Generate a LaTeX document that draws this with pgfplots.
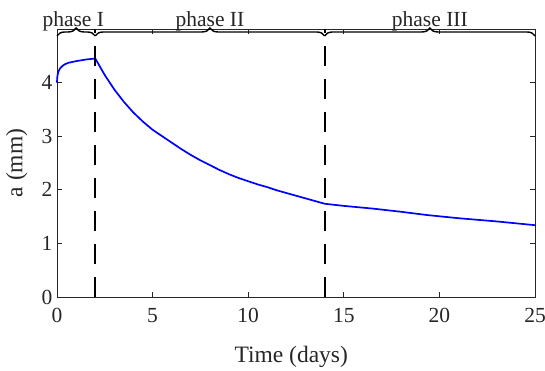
\documentclass[border=0pt]{standalone}
\usepackage{fontspec}
\setmainfont{Liberation Serif}
\usepackage{pgfplots}
\pgfplotsset{compat=1.18}
\usetikzlibrary{decorations.pathreplacing}
\definecolor{axgray}{RGB}{38,38,38}
\begin{document}
\begin{tikzpicture}[x=1pt,y=1pt]
\begin{axis}[scale only axis,
  width=478pt, height=268pt,
  xmin=0, xmax=25, ymin=0, ymax=5,
  xtick={0,5,...,25}, ytick={0,1,2,3,4},
  tick align=inside, major tick length=5pt,
  axis line style={axgray, line width=0.9pt},
  every tick/.style={axgray, line width=0.9pt},
  tick label style={font=\fontsize{21.5}{24}\selectfont, text=axgray},
  xticklabel style={yshift=-8pt},
  yticklabel style={xshift=-1pt},
  /pgf/number format/assume math mode=true,
  xlabel={Time (days)}, ylabel={a (mm)},
  label style={font=\fontsize{23.5}{26}\selectfont, text=axgray},
  xlabel style={at={(axis description cs:0.49,-0.246)}, anchor=base},
  ylabel style={at={(axis description cs:-0.084,0.5)}, anchor=center},
  clip=false]
\addplot[blue, line width=1.7pt] coordinates {
(0,4.00) (0.01,4.08) (0.03,4.14) (0.08,4.21) (0.15,4.26) (0.25,4.30) (0.4,4.34)
(0.6,4.37) (1.0,4.40) (1.5,4.43) (2.0,4.45)
(2.5,4.14) (3.0,3.87) (3.5,3.64) (4.0,3.44) (4.5,3.27) (5.0,3.12) (5.5,3.00)
(6.0,2.88) (6.5,2.76) (7.0,2.65) (7.5,2.55) (8.0,2.46) (8.5,2.37) (9.0,2.29)
(9.5,2.22) (10.0,2.16) (10.5,2.10) (11.0,2.05) (11.5,1.99) (12.0,1.94)
(12.5,1.89) (13.0,1.84) (13.5,1.79) (14.0,1.74)
(15,1.70) (16.5,1.65) (18,1.59) (19.33,1.53) (21,1.47) (23,1.41) (25,1.34)};
\addplot[black, line width=1.7pt, dash pattern=on 20pt off 13pt] coordinates {(2,0) (2,5)};
\addplot[black, line width=1.7pt, dash pattern=on 20pt off 13pt] coordinates {(14,0) (14,5)};
\draw[black, line width=1.4pt, decorate, decoration={brace, amplitude=8pt}] (axis cs:0,4.87) -- (axis cs:2,4.87);
\draw[black, line width=1.4pt, decorate, decoration={brace, amplitude=8pt}] (axis cs:2,4.87) -- (axis cs:14,4.87);
\draw[black, line width=1.4pt, decorate, decoration={brace, amplitude=8pt}] (axis cs:14,4.87) -- (axis cs:25,4.87);
\node[anchor=base, font=\fontsize{21.5}{24}\selectfont, text=axgray] at (axis cs:0.85,5.043) {phase I};
\node[anchor=base, font=\fontsize{21.5}{24}\selectfont, text=axgray] at (axis cs:8,5.043) {phase II};
\node[anchor=base, font=\fontsize{21.5}{24}\selectfont, text=axgray] at (axis cs:19.5,5.043) {phase III};
\end{axis}
\pgfresetboundingbox
\path[use as bounding box] (-57,-73) rectangle (488,297);
\end{tikzpicture}
\end{document}
